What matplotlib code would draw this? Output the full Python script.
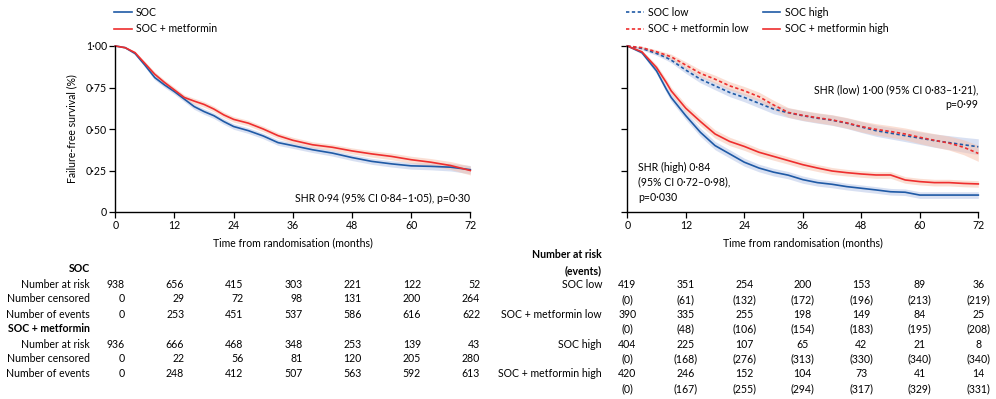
import numpy as np
import matplotlib
matplotlib.use("Agg")
import matplotlib.pyplot as plt
import matplotlib.transforms as mtransforms
from matplotlib.lines import Line2D

plt.rcParams['font.family'] = ['Lato', 'DejaVu Sans']
plt.rcParams['font.size'] = 7.6

# ---- data ----
# left panel: whole population
t_left = [0, 2, 4, 6, 8, 10, 12, 14, 16, 18, 20, 22, 24, 27, 30, 33, 36, 40, 44, 48, 52, 56, 60, 64, 68, 72]
soc = [1.0, 0.99, 0.955, 0.885, 0.81, 0.765, 0.725, 0.68, 0.635, 0.605, 0.58, 0.545, 0.515, 0.49, 0.458,
       0.418, 0.40, 0.375, 0.355, 0.328, 0.305, 0.29, 0.278, 0.275, 0.27, 0.255]
met = [1.0, 0.99, 0.96, 0.895, 0.83, 0.78, 0.735, 0.69, 0.668, 0.648, 0.62, 0.585, 0.558, 0.535, 0.50,
       0.46, 0.432, 0.405, 0.39, 0.368, 0.35, 0.335, 0.315, 0.30, 0.28, 0.25]
soc_ci = [0, 0.005, 0.008, 0.012, 0.014, 0.015, 0.016, 0.016, 0.017, 0.017, 0.017, 0.017, 0.017, 0.017,
          0.017, 0.017, 0.017, 0.017, 0.018, 0.018, 0.018, 0.019, 0.02, 0.021, 0.023, 0.025]
met_ci = [0, 0.005, 0.008, 0.012, 0.014, 0.015, 0.016, 0.016, 0.017, 0.017, 0.017, 0.017, 0.017, 0.017,
          0.017, 0.017, 0.018, 0.018, 0.018, 0.018, 0.019, 0.02, 0.021, 0.022, 0.024, 0.027]

# right panel: low / high subgroups
t_right = [0, 3, 6, 8, 9, 12, 15, 18, 21, 24, 27, 30, 33, 36, 39, 42, 45, 48, 51, 54, 57, 60, 63, 66, 69, 72]
soc_low = [1.0, 0.985, 0.955, 0.93, 0.915, 0.855, 0.80, 0.76, 0.72, 0.69, 0.655, 0.62, 0.598, 0.58, 0.565,
           0.553, 0.535, 0.512, 0.49, 0.475, 0.46, 0.445, 0.43, 0.418, 0.405, 0.393]
met_low = [1.0, 0.99, 0.965, 0.945, 0.935, 0.885, 0.835, 0.80, 0.76, 0.73, 0.695, 0.645, 0.60, 0.582, 0.568,
           0.555, 0.537, 0.515, 0.498, 0.485, 0.47, 0.45, 0.432, 0.415, 0.39, 0.353]
soc_high = [1.0, 0.96, 0.85, 0.74, 0.69, 0.58, 0.48, 0.40, 0.35, 0.30, 0.265, 0.24, 0.222, 0.195, 0.177,
            0.167, 0.153, 0.143, 0.133, 0.122, 0.119, 0.102, 0.102, 0.102, 0.102, 0.102]
met_high = [1.0, 0.965, 0.87, 0.78, 0.73, 0.625, 0.545, 0.47, 0.425, 0.395, 0.36, 0.335, 0.31, 0.285, 0.265,
            0.247, 0.237, 0.229, 0.223, 0.223, 0.193, 0.183, 0.177, 0.177, 0.172, 0.169]
low_ci = [0, 0.008, 0.012, 0.015, 0.016, 0.02, 0.022, 0.024, 0.025, 0.026, 0.027, 0.028, 0.029, 0.03, 0.03,
          0.031, 0.032, 0.033, 0.034, 0.035, 0.036, 0.038, 0.04, 0.042, 0.045, 0.048]
high_ci = [0, 0.01, 0.017, 0.02, 0.022, 0.024, 0.025, 0.025, 0.025, 0.024, 0.023, 0.023, 0.022, 0.022, 0.021,
           0.021, 0.02, 0.02, 0.02, 0.02, 0.02, 0.02, 0.02, 0.02, 0.02, 0.02]

# number at risk tables
tab_times = [0, 12, 24, 36, 48, 60, 72]
soc_risk = [938, 656, 415, 303, 221, 122, 52]
soc_cens = [0, 29, 72, 98, 131, 200, 264]
soc_events = [0, 253, 451, 537, 586, 616, 622]
met_risk = [936, 666, 468, 348, 253, 139, 43]
met_cens = [0, 22, 56, 81, 120, 205, 280]
met_events = [0, 248, 412, 507, 563, 592, 613]

soc_low_risk = [419, 351, 254, 200, 153, 89, 36]
soc_low_ev = [0, 61, 132, 172, 196, 213, 219]
met_low_risk = [390, 335, 255, 198, 149, 84, 25]
met_low_ev = [0, 48, 106, 154, 183, 195, 208]
soc_high_risk = [404, 225, 107, 65, 42, 21, 8]
soc_high_ev = [0, 168, 276, 313, 330, 340, 340]
met_high_risk = [420, 246, 152, 104, 73, 41, 14]
met_high_ev = [0, 167, 255, 294, 317, 329, 331]

BLUE = '#1f5aa6'
RED = '#ee2e2e'
BLUE_F = '#b3c3e6'
RED_F = '#f7c0aa'

W, H = 996, 399
fig = plt.figure(figsize=(W / 100, H / 100), dpi=100)


def px_axes(x0, x1, y0, y1):
    return fig.add_axes([x0 / W, 1 - y1 / H, (x1 - x0) / W, (y1 - y0) / H])


def style(ax, ylabels=True):
    ax.set_xlim(0, 72)
    ax.set_ylim(0, 1.0)
    ax.set_xticks(tab_times)
    ax.set_yticks([0, 0.25, 0.5, 0.75, 1.0])
    if ylabels:
        ax.set_yticklabels(['0', '0·25', '0·50', '0·75', '1·00'])
    else:
        ax.set_yticklabels([])
    for s in ['top', 'right']:
        ax.spines[s].set_visible(False)
    for s in ['left', 'bottom']:
        ax.spines[s].set_linewidth(1.0)
    ax.tick_params(length=4, width=0.9, pad=2, labelsize=7.6)
    ax.set_xlabel('Time from randomisation (months)', labelpad=4)


def curve(ax, t, y, ci, color, fcolor, ls='-'):
    y = np.array(y)
    ci = np.array(ci)
    ax.fill_between(t, y - ci, np.minimum(y + ci, 1.0), color=fcolor, alpha=0.5, lw=0)
    ax.plot(t, y, color=color, lw=1.2, ls=ls, clip_on=False)


# ---- left panel ----
axL = px_axes(115.3, 470.3, 46, 212)
style(axL)
curve(axL, t_left, soc, soc_ci, BLUE, BLUE_F)
curve(axL, t_left, met, met_ci, RED, RED_F)
axL.set_ylabel('Failure-free survival (%)', labelpad=6)
axL.text(72, 0.08, 'SHR 0·94 (95% CI 0·84–1·05), p=0·30', ha='right', va='center')

hL = [Line2D([], [], color=BLUE, lw=1.2), Line2D([], [], color=RED, lw=1.2)]
fig.legend(hL, ['SOC', 'SOC + metformin'], loc='upper left', bbox_to_anchor=(114 / W, 1 - 7 / H),
           frameon=False, handlelength=1.7, handletextpad=0.4, labelspacing=0.5, borderpad=0,
           borderaxespad=0, fontsize=7.6)

# ---- right panel ----
axR = px_axes(627.3, 978.3, 46, 212)
style(axR, ylabels=False)
curve(axR, t_right, soc_low, low_ci, BLUE, BLUE_F, ls=(0, (2, 1.5)))
curve(axR, t_right, met_low, low_ci, RED, RED_F, ls=(0, (2, 1.5)))
curve(axR, t_right, soc_high, high_ci, BLUE, BLUE_F)
curve(axR, t_right, met_high, high_ci, RED, RED_F)
axR.text(72, 0.69, 'SHR (low) 1·00 (95% CI 0·83–1·21),\np=0·99', ha='right', va='center',
         multialignment='right', linespacing=1.45)
axR.text(2.2, 0.18, 'SHR (high) 0·84\n(95% CI 0·72–0·98),\np=0·030', ha='left', va='center',
         linespacing=1.45)

hR = [Line2D([], [], color=BLUE, lw=1.2, ls=(0, (2, 1.5))), Line2D([], [], color=RED, lw=1.2, ls=(0, (2, 1.5))),
      Line2D([], [], color=BLUE, lw=1.2), Line2D([], [], color=RED, lw=1.2)]
fig.legend(hR, ['SOC low', 'SOC + metformin low', 'SOC high', 'SOC + metformin high'], ncol=2,
           loc='upper left', bbox_to_anchor=(626 / W, 1 - 7 / H), frameon=False, handlelength=1.7,
           handletextpad=0.4, labelspacing=0.5, columnspacing=1.3, borderpad=0, borderaxespad=0,
           fontsize=7.6)

# ---- left table ----
trL = mtransforms.blended_transform_factory(axL.transData, fig.transFigure)
trL_num = mtransforms.offset_copy(trL, fig=fig, x=7, units='points')


def fy(py):
    return 1 - py / H


fig.text(90 / W, fy(269), 'SOC', ha='right', va='center', fontweight='bold')
fig.text(90 / W, fy(329), 'SOC + metformin', ha='right', va='center', fontweight='bold')
left_rows = [('Number at risk', soc_risk, 284), ('Number censored', soc_cens, 299),
             ('Number of events', soc_events, 314), ('Number at risk', met_risk, 344),
             ('Number censored', met_cens, 358.5), ('Number of events', met_events, 373.5)]
for lab, vals, py in left_rows:
    fig.text(90 / W, fy(py), lab, ha='right', va='center')
    for t, v in zip(tab_times, vals):
        fig.text(t, fy(py), str(v), transform=trL_num, ha='right', va='center')

# ---- right table ----
trR = mtransforms.blended_transform_factory(axR.transData, fig.transFigure)
fig.text(602 / W, fy(255), 'Number at risk', ha='right', va='center', fontweight='bold')
fig.text(602 / W, fy(270.5), '(events)', ha='right', va='center', fontweight='bold')
right_rows = [('SOC low', soc_low_risk, soc_low_ev, 284.5),
              ('SOC + metformin low', met_low_risk, met_low_ev, 314),
              ('SOC high', soc_high_risk, soc_high_ev, 344),
              ('SOC + metformin high', met_high_risk, met_high_ev, 373.5)]
for lab, risk, ev, py in right_rows:
    fig.text(602 / W, fy(py), lab, ha='right', va='center')
    for t, r, e in zip(tab_times, risk, ev):
        fig.text(t, fy(py), str(r), transform=trR, ha='center', va='center')
        fig.text(t, fy(py + 15), '(%d)' % e, transform=trR, ha='center', va='center')

fig.savefig('out.png', dpi=100)
